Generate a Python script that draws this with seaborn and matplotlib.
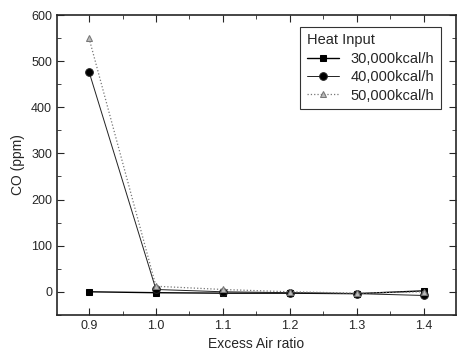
import matplotlib
matplotlib.use("Agg")
from matplotlib import pyplot as plt
from matplotlib.ticker import MultipleLocator, FormatStrFormatter
import seaborn as sns
import pandas as pd

# Data
excess_air = [0.9, 1.0, 1.1, 1.2, 1.3, 1.4]
co_30k = [0, -2, -3, -3, -4, 2]
co_40k = [477, 5, 0, -2, -4, -8]
co_50k = [550, 12, 5, 0, -3, 0]
series_names = ['30,000kcal/h', '40,000kcal/h', '50,000kcal/h']

sns.set_style('ticks')
plt.rcParams['font.family'] = ['Liberation Sans', 'DejaVu Sans']

data = pd.DataFrame({'x': excess_air * 3,
                     'y': co_30k + co_40k + co_50k,
                     'series': [n for n in series_names for _ in excess_air]})

fig = plt.figure(figsize=(4.59, 3.59), dpi=100)
ax = fig.add_axes([0.124, 0.123, 0.869, 0.835])

styles = {'30,000kcal/h': dict(color='black', ls='-', marker='s', lw=1.0, mfc='black', ms=5),
          '40,000kcal/h': dict(color='#222222', ls='-', marker='o', lw=0.7, mfc='black', ms=5.5),
          '50,000kcal/h': dict(color='#777777', ls=':', marker='^', lw=0.9, mfc='#bbbbbb', ms=5)}
for name in series_names:
    sub = data[data.series == name]
    st = styles[name]
    sns.lineplot(data=sub, x='x', y='y', ax=ax, label=name, color=st['color'],
                 linestyle=st['ls'], linewidth=st['lw'], marker=st['marker'],
                 markersize=st['ms'], markerfacecolor=st['mfc'],
                 markeredgecolor=st['color'])

ax.set_xlim(0.852, 1.448)
ax.set_ylim(-50, 600)
ax.xaxis.set_major_locator(MultipleLocator(0.1))
ax.xaxis.set_minor_locator(MultipleLocator(0.05))
ax.yaxis.set_major_locator(MultipleLocator(100))
ax.yaxis.set_minor_locator(MultipleLocator(50))
ax.xaxis.set_major_formatter(FormatStrFormatter('%.1f'))
ax.tick_params(which='both', direction='in', top=True, right=True, labelsize=9)
ax.tick_params(which='major', length=5)
ax.tick_params(which='minor', length=3)
ax.set_xlabel('Excess Air ratio', fontsize=10)
ax.set_ylabel('CO (ppm)', fontsize=10)
for sp in ax.spines.values():
    sp.set_linewidth(1.2)

leg = ax.legend(title='Heat Input', loc='upper right', bbox_to_anchor=(0.98, 0.985),
                frameon=True, fancybox=False, edgecolor='black', fontsize=10.5,
                title_fontsize=10.5, handlelength=2.2, borderpad=0.45, labelspacing=0.3)
leg._legend_box.align = 'left'
leg.get_frame().set_linewidth(0.8)

fig.savefig('out.png', dpi=100)
